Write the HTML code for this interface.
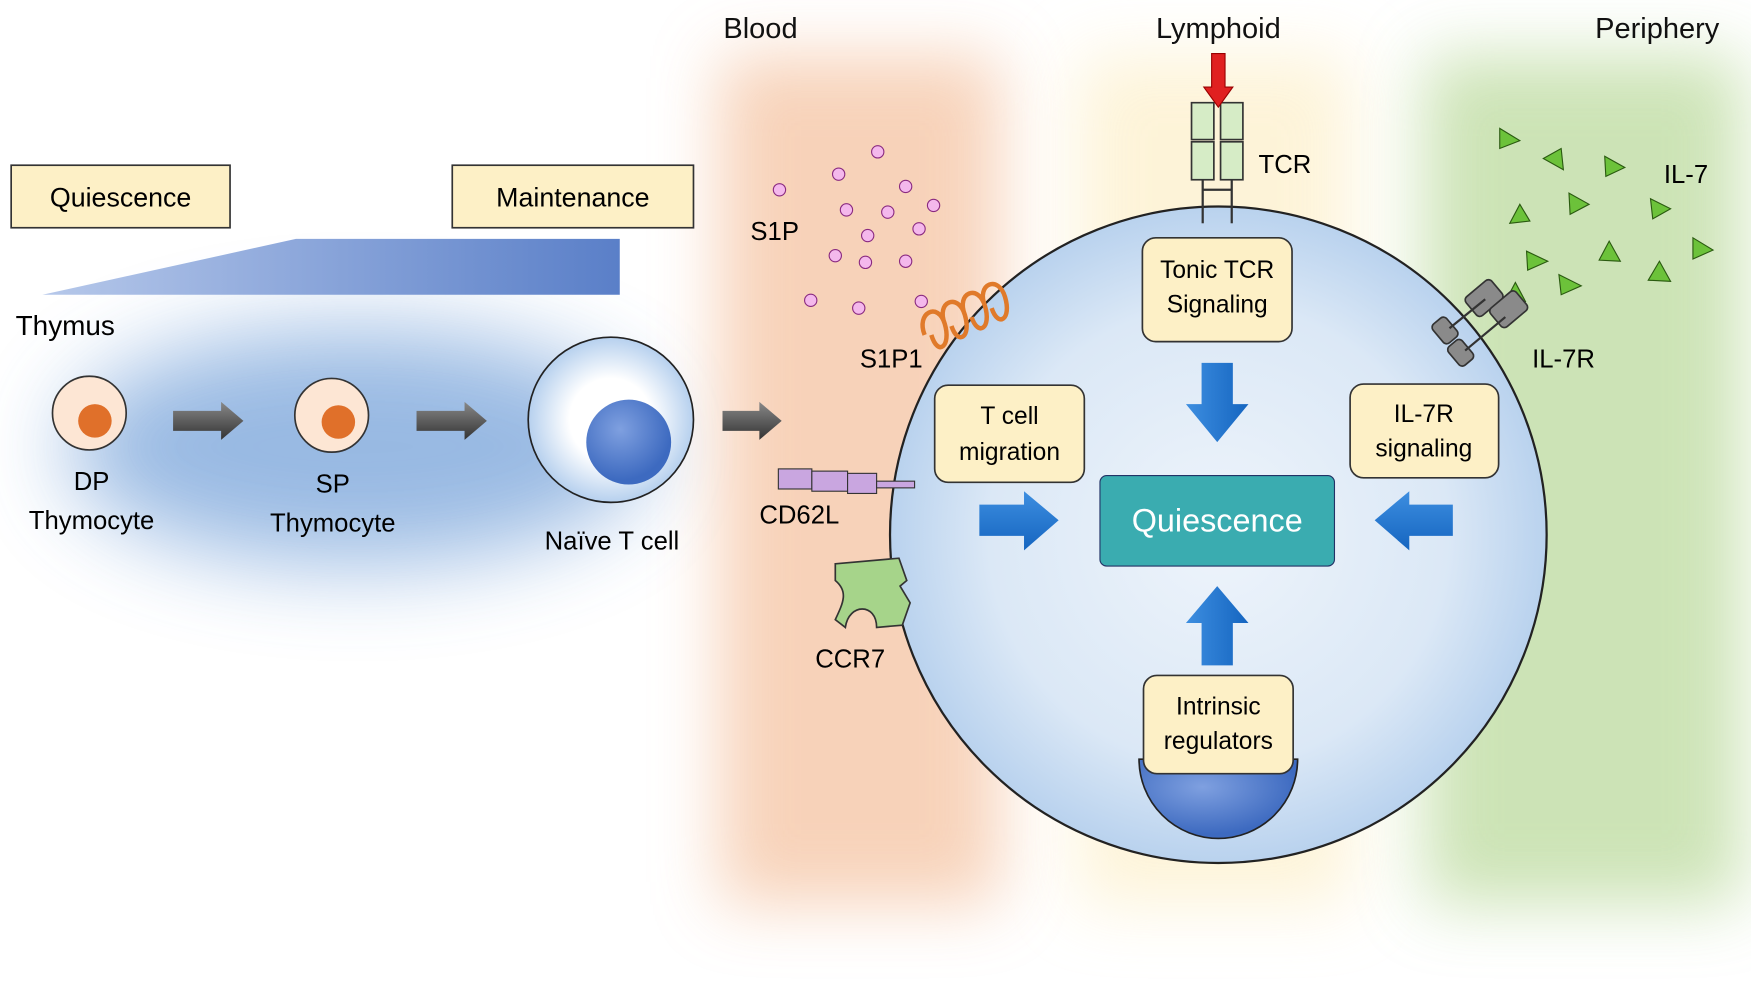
<!DOCTYPE html>
<html><head><meta charset="utf-8"><style>html,body{margin:0;padding:0;background:#fff;}svg{display:block;}</style></head>
<body>
<svg width="1751" height="1007" viewBox="0 0 1568 902" preserveAspectRatio="none" xmlns="http://www.w3.org/2000/svg" font-family="Liberation Sans, sans-serif">
<defs>
<filter id="blur30" x="-50%" y="-50%" width="200%" height="200%"><feGaussianBlur stdDeviation="30"/></filter>
<filter id="blur40" x="-50%" y="-80%" width="200%" height="260%"><feGaussianBlur stdDeviation="40"/></filter>
<linearGradient id="wedge" x1="0" x2="1"><stop offset="0" stop-color="#b6c8ea"/><stop offset="1" stop-color="#5a7fc8"/></linearGradient>
<radialGradient id="cell" cx="0.5" cy="0.5" r="0.5"><stop offset="0" stop-color="#eef4fb"/><stop offset="0.7" stop-color="#dbe8f6"/><stop offset="1" stop-color="#b9d2ee"/></radialGradient>
<radialGradient id="naive" cx="0.5" cy="0.5" r="0.5"><stop offset="0.5" stop-color="#ffffff"/><stop offset="1" stop-color="#b6d0ee"/></radialGradient>
<radialGradient id="nuc" cx="0.4" cy="0.35" r="0.6"><stop offset="0" stop-color="#7fa0e0"/><stop offset="1" stop-color="#3d6ac0"/></radialGradient>
<linearGradient id="garrow" x1="0" y1="0" x2="0" y2="1"><stop offset="0" stop-color="#888"/><stop offset="1" stop-color="#333"/></linearGradient>
<linearGradient id="barrowH" x1="0" y1="0" x2="0" y2="1"><stop offset="0" stop-color="#3d8ee0"/><stop offset="1" stop-color="#1565c0"/></linearGradient>
<linearGradient id="barrowV" x1="0" y1="0" x2="1" y2="0"><stop offset="0" stop-color="#3d8ee0"/><stop offset="1" stop-color="#1565c0"/></linearGradient>
</defs>
<!-- background zones -->
<rect x="645" y="50" width="250" height="760" fill="#f4c09c" opacity="0.7" filter="url(#blur30)"/>
<rect x="965" y="50" width="245" height="760" fill="#fdf1cf" opacity="0.8" filter="url(#blur30)"/>
<rect x="1275" y="50" width="285" height="760" fill="#b9d99a" opacity="0.72" filter="url(#blur30)"/>
<!-- thymus glow -->
<ellipse cx="320" cy="400" rx="260" ry="105" fill="#7fa8dc" opacity="0.8" filter="url(#blur40)"/>
<text x="681" y="34" font-size="26" text-anchor="middle" fill="#111">Blood</text>
<text x="1091" y="34" font-size="26" text-anchor="middle" fill="#111">Lymphoid</text>
<text x="1484" y="34" font-size="26" text-anchor="middle" fill="#111">Periphery</text>
<rect x="10" y="148" width="196" height="56" fill="#fdf0c6" stroke="#333" stroke-width="1.5"/>
<text x="108" y="185" font-size="24" text-anchor="middle">Quiescence</text>
<rect x="405" y="148" width="216" height="56" fill="#fdf0c6" stroke="#333" stroke-width="1.5"/>
<text x="513" y="185" font-size="24" text-anchor="middle">Maintenance</text>
<polygon points="38,264 265,214 555,214 555,264" fill="url(#wedge)"/>
<text x="14" y="300" font-size="25">Thymus</text>
<!-- thymocytes -->
<circle cx="80" cy="370" r="33" fill="#fde6d4" stroke="#333" stroke-width="1.5"/>
<circle cx="85" cy="377" r="15" fill="#e0702a"/>
<circle cx="297" cy="372" r="33" fill="#fde6d4" stroke="#333" stroke-width="1.5"/>
<circle cx="303" cy="378" r="15" fill="#e0702a"/>
<text x="82" y="439" font-size="23" text-anchor="middle">DP</text>
<text x="82" y="474" font-size="23" text-anchor="middle">Thymocyte</text>
<text x="298" y="441" font-size="23" text-anchor="middle">SP</text>
<text x="298" y="476" font-size="23" text-anchor="middle">Thymocyte</text>
<g fill="url(#garrow)">
<polygon points="155,368 198,368 198,360 218,377 198,394 198,386 155,386"/>
<polygon points="373,368 416,368 416,360 436,377 416,394 416,386 373,386"/>
<polygon points="647,368 680,368 680,360 700,377 680,394 680,386 647,386"/>
</g>
<circle cx="547" cy="376" r="74" fill="url(#naive)" stroke="#222" stroke-width="1.5"/>
<circle cx="563" cy="396" r="38" fill="url(#nuc)"/>
<text x="548" y="492" font-size="23" text-anchor="middle">Naïve T cell</text>
<!-- S1P dots -->
<g fill="#f4b8ec" stroke="#8a2a80" stroke-width="1">
<circle cx="786" cy="136" r="5.5"/><circle cx="698" cy="170" r="5.5"/><circle cx="751" cy="156" r="5.5"/><circle cx="811" cy="167" r="5.5"/><circle cx="758" cy="188" r="5.5"/><circle cx="795" cy="190" r="5.5"/><circle cx="836" cy="184" r="5.5"/><circle cx="777" cy="211" r="5.5"/><circle cx="823" cy="205" r="5.5"/><circle cx="748" cy="229" r="5.5"/><circle cx="775" cy="235" r="5.5"/><circle cx="811" cy="234" r="5.5"/><circle cx="726" cy="269" r="5.5"/><circle cx="769" cy="276" r="5.5"/><circle cx="825" cy="270" r="5.5"/>
</g>
<text x="672" y="215" font-size="23">S1P</text>
<!-- big cell -->
<circle cx="1091" cy="479" r="294" fill="url(#cell)" stroke="#222" stroke-width="2"/>
<path d="M1020,680 A71,71 0 0 0 1162,680 Z" fill="url(#nuc)" stroke="#222" stroke-width="1.5"/>
<!-- S1P1 -->
<g fill="none" stroke="#e07a2a" stroke-width="4">
<path d="M828,300 C820,280 840,270 846,290 C852,310 840,320 834,300 M846,290 C838,270 858,262 864,282 C870,302 858,310 852,292 M864,282 C856,262 876,254 882,274 C888,294 876,302 870,284 M882,274 C874,254 894,246 900,266 C906,286 894,294 888,276"/>
</g>
<text x="770" y="329" font-size="23">S1P1</text>
<!-- CD62L -->
<rect x="697" y="420" width="30" height="18" fill="#c9a6e0" stroke="#333"/>
<rect x="727" y="422" width="32" height="18" fill="#c9a6e0" stroke="#333"/>
<rect x="759" y="424" width="26" height="18" fill="#c9a6e0" stroke="#333"/>
<rect x="785" y="431" width="34" height="6" fill="#c9a6e0" stroke="#333"/>
<text x="680" y="469" font-size="23">CD62L</text>
<!-- CCR7 -->
<path d="M748,505 L805,500 L812,520 L806,525 L815,540 L808,560 L785,562 C785,540 760,540 757,562 L748,555 C755,540 760,530 748,520 Z" fill="#a6d48a" stroke="#333" stroke-width="1.5"/>
<text x="730" y="598" font-size="23">CCR7</text>
<!-- TCR -->
<g fill="#d6ecc6" stroke="#333" stroke-width="1.5">
<path d="M1067,92 L1087,92 L1087,125 L1067,125 Z M1093,92 L1113,92 L1113,125 L1093,125 Z"/>
<rect x="1067" y="127" width="20" height="34"/><rect x="1093" y="127" width="20" height="34"/>
</g>
<line x1="1077" y1="161" x2="1077" y2="200" stroke="#333" stroke-width="2"/>
<line x1="1103" y1="161" x2="1103" y2="200" stroke="#333" stroke-width="2"/>
<line x1="1077" y1="170" x2="1103" y2="170" stroke="#333" stroke-width="2"/>
<polygon points="1085,48 1097,48 1097,78 1104,78 1091,96 1078,78 1085,78" fill="#e02020" stroke="#900" stroke-width="1"/>
<text x="1127" y="155" font-size="23">TCR</text>
<!-- IL-7 -->
<g fill="#6cc23a" stroke="#2a5a10" stroke-width="1">
<polygon points="1343,115 1361,126 1343,133"/><polygon points="1398,133 1400,152 1382,142"/><polygon points="1437,140 1455,150 1438,158"/><polygon points="1352,200 1361,183 1370,198"/><polygon points="1405,173 1423,183 1406,192"/><polygon points="1478,178 1496,187 1480,196"/><polygon points="1367,225 1386,234 1368,242"/><polygon points="1432,233 1441,216 1451,234"/><polygon points="1516,213 1534,224 1516,232"/><polygon points="1396,246 1416,256 1398,264"/><polygon points="1476,251 1486,234 1496,252"/><polygon points="1348,270 1357,253 1366,270"/>
</g>
<text x="1490" y="164" font-size="23">IL-7</text>
<!-- IL-7R -->
<g fill="#8a8a8a" stroke="#333" stroke-width="1.5">
<rect x="1318" y="252" width="22" height="30" rx="4" transform="rotate(50 1329 267)"/>
<rect x="1340" y="262" width="22" height="30" rx="4" transform="rotate(50 1351 277)"/>
<rect x="1283" y="288" width="22" height="16" rx="4" transform="rotate(50 1294 296)"/>
<rect x="1297" y="308" width="22" height="16" rx="4" transform="rotate(50 1308 316)"/>
</g>
<line x1="1298" y1="294" x2="1330" y2="268" stroke="#333" stroke-width="2"/>
<line x1="1312" y1="314" x2="1348" y2="284" stroke="#333" stroke-width="2"/>
<text x="1372" y="329" font-size="23">IL-7R</text>
<!-- inner boxes -->
<g fill="#fdf0c6" stroke="#333" stroke-width="1.5">
<rect x="1023" y="213" width="134" height="93" rx="12"/>
<rect x="837" y="345" width="134" height="87" rx="12"/>
<rect x="1209" y="344" width="133" height="84" rx="12"/>
<rect x="1024" y="605" width="134" height="88" rx="12"/>
</g>
<g font-size="22" text-anchor="middle">
<text x="1090" y="249">Tonic TCR</text><text x="1090" y="280">Signaling</text>
<text x="904" y="380">T cell</text><text x="904" y="412">migration</text>
<text x="1275" y="378">IL-7R</text><text x="1275" y="409">signaling</text>
<text x="1091" y="640">Intrinsic</text><text x="1091" y="671">regulators</text>
</g>
<rect x="985" y="426" width="210" height="81" rx="6" fill="#3aacb0" stroke="#236" stroke-width="1"/>
<text x="1090" y="476" font-size="29" fill="#fff" text-anchor="middle">Quiescence</text>
<!-- blue arrows -->
<polygon points="1076,325 1104,325 1104,362 1118,362 1090,396 1062,362 1076,362" fill="url(#barrowV)"/>
<polygon points="1076,596 1104,596 1104,558 1118,558 1090,525 1062,558 1076,558" fill="url(#barrowV)"/>
<polygon points="877,452 917,452 917,440 948,466 917,493 917,480 877,480" fill="url(#barrowH)"/>
<polygon points="1301,452 1262,452 1262,440 1231,466 1262,493 1262,480 1301,480" fill="url(#barrowH)"/>
</svg>
</body></html>
